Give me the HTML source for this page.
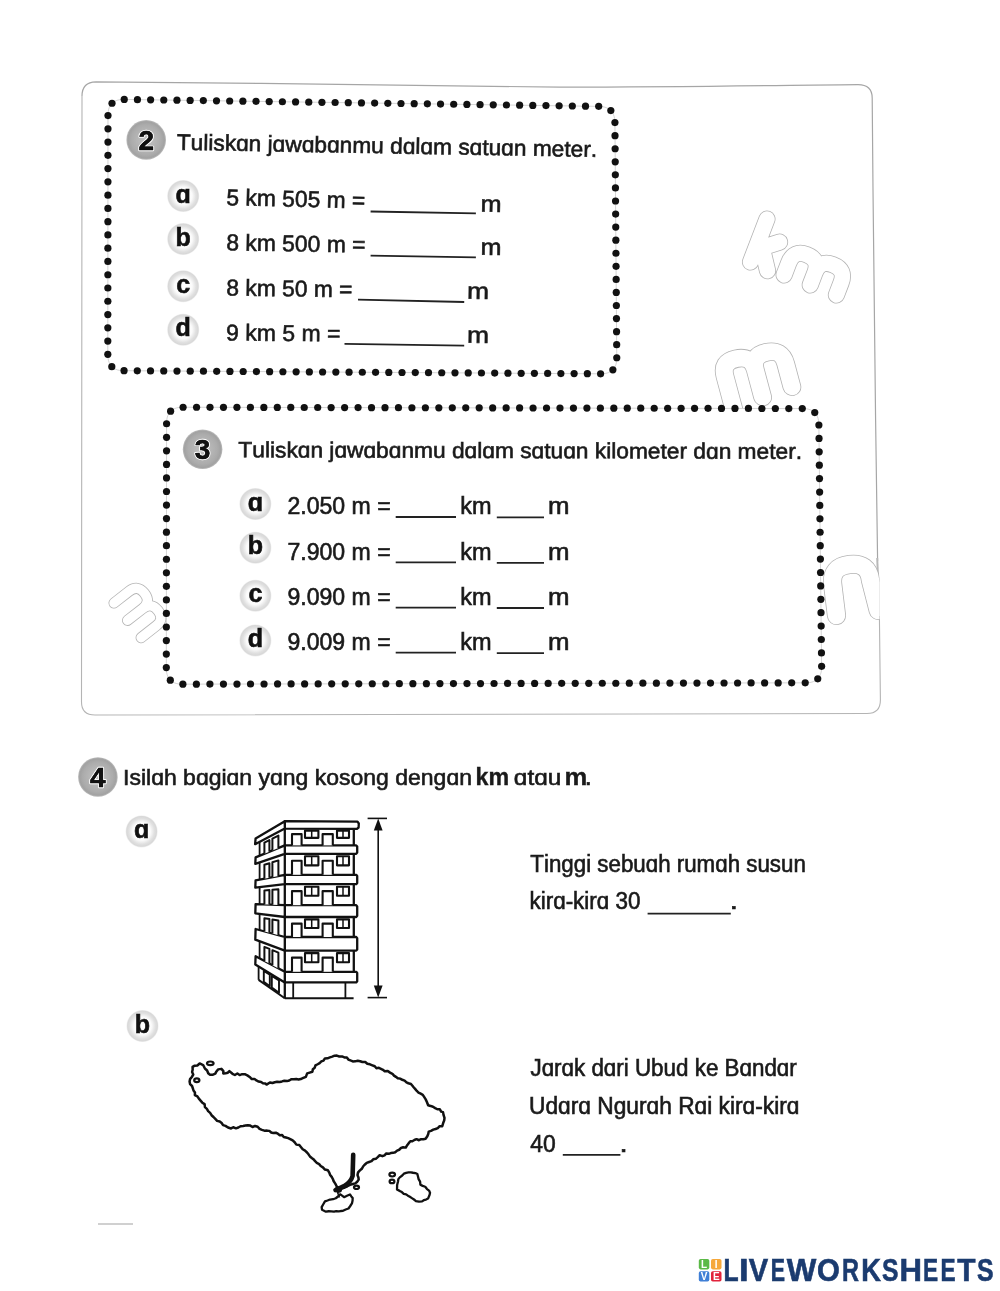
<!DOCTYPE html>
<html><head><meta charset="utf-8"><title>Worksheet</title>
<style>
html,body{margin:0;padding:0;background:#fff;}
body{width:1000px;height:1291px;overflow:hidden;}
svg{display:block;font-family:"Liberation Sans",sans-serif;font-kerning:none;filter:blur(0.45px);}
</style></head><body>
<svg width="1000" height="1291" viewBox="0 0 1000 1291">
<defs>
<radialGradient id="numg" cx="50%" cy="50%" r="50%">
 <stop offset="0" stop-color="#c4c4c4"/><stop offset="0.75" stop-color="#acacac"/><stop offset="0.92" stop-color="#a2a2a2"/><stop offset="1" stop-color="#bdbdbd"/>
</radialGradient>
<radialGradient id="letg" cx="50%" cy="50%" r="50%">
 <stop offset="0" stop-color="#ffffff"/><stop offset="0.55" stop-color="#fbfbfb"/><stop offset="0.8" stop-color="#e0e0e0"/><stop offset="0.93" stop-color="#d8d8d8"/><stop offset="1" stop-color="#efefef"/>
</radialGradient>
</defs>
<rect width="1000" height="1291" fill="#fff"/>
<path d="M 82 96 Q 82 82 96 81.8 C 250 82.5, 420 86.5, 560 87.2 C 700 87, 800 85, 858 84.6 Q 872.2 84.6 872.2 98 L 873 190 L 875.6 420 L 877.6 561" fill="none" stroke="#a6a6a6" stroke-width="1.2"/>
<path d="M 877.2 558 L 878.2 582" fill="none" stroke="#b8b8b8" stroke-width="2"/>
<path d="M 879.4 616 L 880.4 700 Q 880.4 713.5 867 713.5 L 95 715 Q 81.5 715 81.5 702 L 82 96" fill="none" stroke="#b4b4b4" stroke-width="1.1"/>
<g transform="translate(750.5 262) rotate(21)" fill="none" stroke-linecap="round" stroke-linejoin="round"><path d="M 0 0 V -46 M 0 -13 L 20 -29 M 6 -17 L 19 2 M 36 0 V -13 Q 36 -27 50 -27 Q 64 -27 64 -13 V 0 M 64 -13 Q 64 -27 78 -27 Q 92 -27 92 -13 V 0" stroke="#b4b4b4" stroke-width="17.10"/><path d="M 0 0 V -46 M 0 -13 L 20 -29 M 6 -17 L 19 2 M 36 0 V -13 Q 36 -27 50 -27 Q 64 -27 64 -13 V 0 M 64 -13 Q 64 -27 78 -27 Q 92 -27 92 -13 V 0" stroke="#fff" stroke-width="15.50"/></g>
<g transform="translate(732 402.5) rotate(-12) skewX(3)" fill="none" stroke-linecap="round" stroke-linejoin="round"><path d="M 0 8 V -27 Q 0 -42 15.5 -42 Q 31 -42 31 -27 V 1 M 31 -27 Q 31 -42 46.5 -42 Q 62 -42 62 -27 V -3" stroke="#b4b4b4" stroke-width="18.60"/><path d="M 0 8 V -27 Q 0 -42 15.5 -42 Q 31 -42 31 -27 V 1 M 31 -27 Q 31 -42 46.5 -42 Q 62 -42 62 -27 V -3" stroke="#fff" stroke-width="17.00"/></g>
<g transform="translate(114 603) rotate(52)" fill="none" stroke-linecap="round" stroke-linejoin="round"><path d="M 0 0 V -19 Q 0 -30 11 -30 Q 22 -30 22 -19 V 0 M 22 -19 Q 22 -30 33 -30 Q 44 -30 44 -19 V 0" stroke="#b4b4b4" stroke-width="11.10"/><path d="M 0 0 V -19 Q 0 -30 11 -30 Q 22 -30 22 -19 V 0 M 22 -19 Q 22 -30 33 -30 Q 44 -30 44 -19 V 0" stroke="#fff" stroke-width="9.50"/></g>
<clipPath id="clipn"><rect x="700" y="500" width="179.5" height="200"/></clipPath>
<g clip-path="url(#clipn)">
<g transform="translate(836.5 615.5) rotate(-7)" fill="none" stroke-linecap="round" stroke-linejoin="round"><path d="M 0 0 V -31 Q 0 -49 19 -49 Q 38 -49 38 -31 L 42 0" stroke="#b4b4b4" stroke-width="19.10"/><path d="M 0 0 V -31 Q 0 -49 19 -49 Q 38 -49 38 -31 L 42 0" stroke="#fff" stroke-width="17.50"/></g>
</g>
<path d="M 112.00 103.26 L 113.22 102.22 L 114.61 101.34 L 116.16 100.63 L 117.88 100.08 L 119.75 99.70 L 121.79 99.48 L 124.00 99.43 L 598.80 106.37 L 601.01 106.48 L 603.05 106.75 L 604.93 107.19 L 606.65 107.79 L 608.20 108.54 L 609.60 109.46 L 610.83 110.54 L 610.83 110.54 L 611.90 111.78 L 612.81 113.18 L 613.56 114.74 L 614.14 116.47 L 614.57 118.35 L 614.83 120.39 L 614.93 122.60 L 616.77 357.90 L 616.71 360.10 L 616.48 362.14 L 616.09 364.02 L 615.53 365.73 L 614.81 367.27 L 613.92 368.66 L 612.87 369.87 L 612.87 369.87 L 611.65 370.93 L 610.27 371.82 L 608.73 372.54 L 607.02 373.10 L 605.14 373.50 L 603.10 373.73 L 600.90 373.80 L 123.80 370.70 L 121.60 370.61 L 119.56 370.35 L 117.68 369.93 L 115.96 369.35 L 114.41 368.60 L 113.03 367.70 L 111.80 366.63 L 111.80 366.63 L 110.74 365.39 L 109.85 364.00 L 109.11 362.45 L 108.54 360.73 L 108.14 358.85 L 107.89 356.80 L 107.81 354.60 L 107.99 115.20 L 108.07 113.00 L 108.32 110.96 L 108.73 109.09 L 109.30 107.38 L 110.04 105.84 L 110.93 104.47 L 112.00 103.26 Z" fill="#fff" stroke="#c9c9c9" stroke-width="0.8"/>
<g fill="#111"><circle cx="112.00" cy="103.26" r="3.60"/><circle cx="124.25" cy="99.44" r="3.60"/><circle cx="137.43" cy="99.63" r="3.60"/><circle cx="150.61" cy="99.82" r="3.60"/><circle cx="163.78" cy="100.01" r="3.60"/><circle cx="176.96" cy="100.21" r="3.60"/><circle cx="190.14" cy="100.40" r="3.60"/><circle cx="203.32" cy="100.59" r="3.60"/><circle cx="216.50" cy="100.78" r="3.60"/><circle cx="229.68" cy="100.98" r="3.60"/><circle cx="242.86" cy="101.17" r="3.60"/><circle cx="256.03" cy="101.36" r="3.60"/><circle cx="269.21" cy="101.55" r="3.60"/><circle cx="282.39" cy="101.75" r="3.60"/><circle cx="295.57" cy="101.94" r="3.60"/><circle cx="308.75" cy="102.13" r="3.60"/><circle cx="321.93" cy="102.32" r="3.60"/><circle cx="335.11" cy="102.52" r="3.60"/><circle cx="348.28" cy="102.71" r="3.60"/><circle cx="361.46" cy="102.90" r="3.60"/><circle cx="374.64" cy="103.09" r="3.60"/><circle cx="387.82" cy="103.29" r="3.60"/><circle cx="401.00" cy="103.48" r="3.60"/><circle cx="414.18" cy="103.67" r="3.60"/><circle cx="427.36" cy="103.86" r="3.60"/><circle cx="440.53" cy="104.06" r="3.60"/><circle cx="453.71" cy="104.25" r="3.60"/><circle cx="466.89" cy="104.44" r="3.60"/><circle cx="480.07" cy="104.63" r="3.60"/><circle cx="493.25" cy="104.83" r="3.60"/><circle cx="506.43" cy="105.02" r="3.60"/><circle cx="519.61" cy="105.21" r="3.60"/><circle cx="532.79" cy="105.40" r="3.60"/><circle cx="545.96" cy="105.59" r="3.60"/><circle cx="559.14" cy="105.79" r="3.60"/><circle cx="572.32" cy="105.98" r="3.60"/><circle cx="585.50" cy="106.17" r="3.60"/><circle cx="598.68" cy="106.36" r="3.60"/><circle cx="610.83" cy="110.54" r="3.60"/><circle cx="614.93" cy="122.61" r="3.60"/><circle cx="615.03" cy="135.67" r="3.60"/><circle cx="615.13" cy="148.74" r="3.60"/><circle cx="615.23" cy="161.80" r="3.60"/><circle cx="615.34" cy="174.86" r="3.60"/><circle cx="615.44" cy="187.93" r="3.60"/><circle cx="615.54" cy="200.99" r="3.60"/><circle cx="615.64" cy="214.06" r="3.60"/><circle cx="615.75" cy="227.12" r="3.60"/><circle cx="615.85" cy="240.19" r="3.60"/><circle cx="615.95" cy="253.25" r="3.60"/><circle cx="616.05" cy="266.31" r="3.60"/><circle cx="616.16" cy="279.38" r="3.60"/><circle cx="616.26" cy="292.44" r="3.60"/><circle cx="616.36" cy="305.51" r="3.60"/><circle cx="616.47" cy="318.57" r="3.60"/><circle cx="616.57" cy="331.64" r="3.60"/><circle cx="616.67" cy="344.70" r="3.60"/><circle cx="616.77" cy="357.76" r="3.60"/><circle cx="612.87" cy="369.87" r="3.60"/><circle cx="600.59" cy="373.79" r="3.60"/><circle cx="587.35" cy="373.71" r="3.60"/><circle cx="574.12" cy="373.62" r="3.60"/><circle cx="560.88" cy="373.54" r="3.60"/><circle cx="547.64" cy="373.45" r="3.60"/><circle cx="534.40" cy="373.37" r="3.60"/><circle cx="521.17" cy="373.28" r="3.60"/><circle cx="507.93" cy="373.19" r="3.60"/><circle cx="494.69" cy="373.11" r="3.60"/><circle cx="481.45" cy="373.02" r="3.60"/><circle cx="468.22" cy="372.94" r="3.60"/><circle cx="454.98" cy="372.85" r="3.60"/><circle cx="441.74" cy="372.76" r="3.60"/><circle cx="428.50" cy="372.68" r="3.60"/><circle cx="415.27" cy="372.59" r="3.60"/><circle cx="402.03" cy="372.51" r="3.60"/><circle cx="388.79" cy="372.42" r="3.60"/><circle cx="375.55" cy="372.34" r="3.60"/><circle cx="362.31" cy="372.25" r="3.60"/><circle cx="349.08" cy="372.16" r="3.60"/><circle cx="335.84" cy="372.08" r="3.60"/><circle cx="322.60" cy="371.99" r="3.60"/><circle cx="309.36" cy="371.91" r="3.60"/><circle cx="296.13" cy="371.82" r="3.60"/><circle cx="282.89" cy="371.73" r="3.60"/><circle cx="269.65" cy="371.65" r="3.60"/><circle cx="256.41" cy="371.56" r="3.60"/><circle cx="243.18" cy="371.48" r="3.60"/><circle cx="229.94" cy="371.39" r="3.60"/><circle cx="216.70" cy="371.31" r="3.60"/><circle cx="203.46" cy="371.22" r="3.60"/><circle cx="190.23" cy="371.13" r="3.60"/><circle cx="176.99" cy="371.05" r="3.60"/><circle cx="163.75" cy="370.96" r="3.60"/><circle cx="150.51" cy="370.88" r="3.60"/><circle cx="137.28" cy="370.79" r="3.60"/><circle cx="124.04" cy="370.71" r="3.60"/><circle cx="111.80" cy="366.63" r="3.60"/><circle cx="107.81" cy="354.33" r="3.60"/><circle cx="107.82" cy="341.07" r="3.60"/><circle cx="107.83" cy="327.80" r="3.60"/><circle cx="107.84" cy="314.53" r="3.60"/><circle cx="107.85" cy="301.27" r="3.60"/><circle cx="107.86" cy="288.00" r="3.60"/><circle cx="107.87" cy="274.73" r="3.60"/><circle cx="107.88" cy="261.47" r="3.60"/><circle cx="107.89" cy="248.20" r="3.60"/><circle cx="107.90" cy="234.93" r="3.60"/><circle cx="107.91" cy="221.67" r="3.60"/><circle cx="107.92" cy="208.40" r="3.60"/><circle cx="107.93" cy="195.13" r="3.60"/><circle cx="107.94" cy="181.87" r="3.60"/><circle cx="107.95" cy="168.60" r="3.60"/><circle cx="107.96" cy="155.34" r="3.60"/><circle cx="107.97" cy="142.07" r="3.60"/><circle cx="107.98" cy="128.80" r="3.60"/><circle cx="107.99" cy="115.54" r="3.60"/></g>
<circle cx="146.20" cy="139.90" r="19.80" fill="url(#numg)"/>
<text x="146.20" y="149.60" font-size="28" font-weight="bold" text-anchor="middle" fill="#111" stroke="#fff" stroke-width="2.4" paint-order="stroke" stroke-linejoin="round">2</text>
<text x="146.20" y="149.60" font-size="28" font-weight="bold" text-anchor="middle" fill="#111" stroke="#111" stroke-width="0.5">2</text>
<text x="176.69" y="149.80" font-size="22.30" textLength="420.38" lengthAdjust="spacingAndGlyphs" fill="#1a1a1a" transform="rotate(0.974 177.20 149.80)" stroke="#1a1a1a" stroke-width="0.60">Tuliskɑn jɑwɑbɑnmu dɑlɑm sɑtuɑn meter.</text>
<circle cx="183.20" cy="196.00" r="16.00" fill="url(#letg)"/>
<text x="183.20" y="202.60" font-size="25" font-weight="bold" text-anchor="middle" fill="#111" stroke="#111" stroke-width="0.6">ɑ</text>
<text x="226.29" y="205.20" font-size="23.00" textLength="138.84" lengthAdjust="spacingAndGlyphs" fill="#1a1a1a" transform="rotate(1.324 227.20 205.20)" stroke="#1a1a1a" stroke-width="0.60">5 km 505 m =</text>
<line x1="370.60" y1="211.50" x2="475.90" y2="213.30" stroke="#222" stroke-width="1.80"/>
<text x="480.53" y="211.50" font-size="23.00" textLength="20.92" lengthAdjust="spacingAndGlyphs" fill="#1a1a1a" transform="rotate(1.324 482.20 211.50)" stroke="#1a1a1a" stroke-width="0.60">m</text>
<circle cx="183.20" cy="239.00" r="16.00" fill="url(#letg)"/>
<text x="183.20" y="245.60" font-size="25" font-weight="bold" text-anchor="middle" fill="#111" stroke="#111" stroke-width="0.6">b</text>
<text x="226.21" y="250.40" font-size="23.00" textLength="139.22" lengthAdjust="spacingAndGlyphs" fill="#1a1a1a" transform="rotate(0.904 227.20 250.40)" stroke="#1a1a1a" stroke-width="0.60">8 km 500 m =</text>
<line x1="370.60" y1="255.60" x2="475.90" y2="257.40" stroke="#222" stroke-width="1.80"/>
<text x="480.53" y="254.70" font-size="23.00" textLength="20.92" lengthAdjust="spacingAndGlyphs" fill="#1a1a1a" transform="rotate(0.904 482.20 254.70)" stroke="#1a1a1a" stroke-width="0.60">m</text>
<circle cx="183.20" cy="286.20" r="16.00" fill="url(#letg)"/>
<text x="183.20" y="292.80" font-size="25" font-weight="bold" text-anchor="middle" fill="#111" stroke="#111" stroke-width="0.6">c</text>
<text x="226.21" y="295.60" font-size="23.00" textLength="126.12" lengthAdjust="spacingAndGlyphs" fill="#1a1a1a" transform="rotate(0.705 227.20 295.60)" stroke="#1a1a1a" stroke-width="0.60">8 km 50 m =</text>
<line x1="358.00" y1="299.70" x2="464.20" y2="302.00" stroke="#222" stroke-width="1.80"/>
<text x="466.95" y="298.80" font-size="23.00" textLength="21.99" lengthAdjust="spacingAndGlyphs" fill="#1a1a1a" transform="rotate(0.705 468.70 298.80)" stroke="#1a1a1a" stroke-width="0.60">m</text>
<circle cx="183.20" cy="329.80" r="16.00" fill="url(#letg)"/>
<text x="183.20" y="336.40" font-size="25" font-weight="bold" text-anchor="middle" fill="#111" stroke="#111" stroke-width="0.6">d</text>
<text x="226.12" y="340.40" font-size="23.00" textLength="114.21" lengthAdjust="spacingAndGlyphs" fill="#1a1a1a" transform="rotate(0.551 227.20 340.40)" stroke="#1a1a1a" stroke-width="0.60">9 km 5 m =</text>
<line x1="344.50" y1="343.80" x2="464.20" y2="345.60" stroke="#222" stroke-width="1.80"/>
<text x="466.95" y="342.90" font-size="23.00" textLength="21.99" lengthAdjust="spacingAndGlyphs" fill="#1a1a1a" transform="rotate(0.551 468.70 342.90)" stroke="#1a1a1a" stroke-width="0.60">m</text>
<path d="M 170.60 411.21 L 171.82 410.15 L 173.21 409.26 L 174.76 408.52 L 176.48 407.96 L 178.35 407.55 L 180.40 407.31 L 182.60 407.23 L 802.70 408.57 L 804.91 408.65 L 806.95 408.90 L 808.83 409.31 L 810.55 409.89 L 812.11 410.63 L 813.51 411.53 L 814.75 412.59 L 814.75 412.59 L 815.82 413.82 L 816.73 415.21 L 817.49 416.76 L 818.08 418.48 L 818.51 420.35 L 818.77 422.39 L 818.88 424.60 L 821.62 666.80 L 821.56 669.01 L 821.34 671.05 L 820.95 672.92 L 820.40 674.64 L 819.68 676.19 L 818.80 677.58 L 817.75 678.81 L 817.75 678.81 L 816.54 679.87 L 815.16 680.77 L 813.62 681.51 L 811.91 682.09 L 810.04 682.50 L 808.00 682.75 L 805.80 682.83 L 182.30 684.17 L 180.10 684.09 L 178.06 683.85 L 176.18 683.44 L 174.46 682.88 L 172.91 682.15 L 171.53 681.25 L 170.30 680.19 L 170.30 680.19 L 169.24 678.97 L 168.35 677.58 L 167.61 676.03 L 167.05 674.32 L 166.64 672.44 L 166.40 670.40 L 166.32 668.20 L 166.58 423.20 L 166.67 421.00 L 166.91 418.96 L 167.32 417.08 L 167.90 415.37 L 168.63 413.82 L 169.53 412.43 L 170.60 411.21 Z" fill="#fff" stroke="#c9c9c9" stroke-width="0.8"/>
<g fill="#111"><circle cx="170.60" cy="411.21" r="3.60"/><circle cx="183.09" cy="407.24" r="3.60"/><circle cx="196.55" cy="407.26" r="3.60"/><circle cx="210.01" cy="407.29" r="3.60"/><circle cx="223.47" cy="407.32" r="3.60"/><circle cx="236.93" cy="407.35" r="3.60"/><circle cx="250.39" cy="407.38" r="3.60"/><circle cx="263.85" cy="407.41" r="3.60"/><circle cx="277.31" cy="407.44" r="3.60"/><circle cx="290.77" cy="407.47" r="3.60"/><circle cx="304.23" cy="407.50" r="3.60"/><circle cx="317.69" cy="407.52" r="3.60"/><circle cx="331.15" cy="407.55" r="3.60"/><circle cx="344.61" cy="407.58" r="3.60"/><circle cx="358.07" cy="407.61" r="3.60"/><circle cx="371.53" cy="407.64" r="3.60"/><circle cx="384.99" cy="407.67" r="3.60"/><circle cx="398.45" cy="407.70" r="3.60"/><circle cx="411.91" cy="407.73" r="3.60"/><circle cx="425.37" cy="407.76" r="3.60"/><circle cx="438.83" cy="407.78" r="3.60"/><circle cx="452.29" cy="407.81" r="3.60"/><circle cx="465.75" cy="407.84" r="3.60"/><circle cx="479.21" cy="407.87" r="3.60"/><circle cx="492.68" cy="407.90" r="3.60"/><circle cx="506.14" cy="407.93" r="3.60"/><circle cx="519.60" cy="407.96" r="3.60"/><circle cx="533.06" cy="407.99" r="3.60"/><circle cx="546.52" cy="408.02" r="3.60"/><circle cx="559.98" cy="408.04" r="3.60"/><circle cx="573.44" cy="408.07" r="3.60"/><circle cx="586.90" cy="408.10" r="3.60"/><circle cx="600.36" cy="408.13" r="3.60"/><circle cx="613.82" cy="408.16" r="3.60"/><circle cx="627.28" cy="408.19" r="3.60"/><circle cx="640.74" cy="408.22" r="3.60"/><circle cx="654.20" cy="408.25" r="3.60"/><circle cx="667.66" cy="408.28" r="3.60"/><circle cx="681.12" cy="408.30" r="3.60"/><circle cx="694.58" cy="408.33" r="3.60"/><circle cx="708.04" cy="408.36" r="3.60"/><circle cx="721.50" cy="408.39" r="3.60"/><circle cx="734.96" cy="408.42" r="3.60"/><circle cx="748.42" cy="408.45" r="3.60"/><circle cx="761.88" cy="408.48" r="3.60"/><circle cx="775.34" cy="408.51" r="3.60"/><circle cx="788.80" cy="408.54" r="3.60"/><circle cx="802.27" cy="408.56" r="3.60"/><circle cx="814.75" cy="412.59" r="3.60"/><circle cx="818.89" cy="424.98" r="3.60"/><circle cx="819.04" cy="438.39" r="3.60"/><circle cx="819.19" cy="451.80" r="3.60"/><circle cx="819.34" cy="465.21" r="3.60"/><circle cx="819.49" cy="478.62" r="3.60"/><circle cx="819.64" cy="492.03" r="3.60"/><circle cx="819.79" cy="505.43" r="3.60"/><circle cx="819.95" cy="518.84" r="3.60"/><circle cx="820.10" cy="532.25" r="3.60"/><circle cx="820.25" cy="545.66" r="3.60"/><circle cx="820.40" cy="559.07" r="3.60"/><circle cx="820.55" cy="572.48" r="3.60"/><circle cx="820.70" cy="585.89" r="3.60"/><circle cx="820.86" cy="599.30" r="3.60"/><circle cx="821.01" cy="612.70" r="3.60"/><circle cx="821.16" cy="626.11" r="3.60"/><circle cx="821.31" cy="639.52" r="3.60"/><circle cx="821.46" cy="652.93" r="3.60"/><circle cx="821.61" cy="666.34" r="3.60"/><circle cx="817.75" cy="678.81" r="3.60"/><circle cx="805.22" cy="682.84" r="3.60"/><circle cx="791.69" cy="682.86" r="3.60"/><circle cx="778.16" cy="682.89" r="3.60"/><circle cx="764.63" cy="682.92" r="3.60"/><circle cx="751.10" cy="682.95" r="3.60"/><circle cx="737.57" cy="682.98" r="3.60"/><circle cx="724.04" cy="683.01" r="3.60"/><circle cx="710.51" cy="683.04" r="3.60"/><circle cx="696.98" cy="683.07" r="3.60"/><circle cx="683.45" cy="683.10" r="3.60"/><circle cx="669.92" cy="683.12" r="3.60"/><circle cx="656.39" cy="683.15" r="3.60"/><circle cx="642.86" cy="683.18" r="3.60"/><circle cx="629.33" cy="683.21" r="3.60"/><circle cx="615.80" cy="683.24" r="3.60"/><circle cx="602.28" cy="683.27" r="3.60"/><circle cx="588.75" cy="683.30" r="3.60"/><circle cx="575.22" cy="683.33" r="3.60"/><circle cx="561.69" cy="683.36" r="3.60"/><circle cx="548.16" cy="683.38" r="3.60"/><circle cx="534.63" cy="683.41" r="3.60"/><circle cx="521.10" cy="683.44" r="3.60"/><circle cx="507.57" cy="683.47" r="3.60"/><circle cx="494.04" cy="683.50" r="3.60"/><circle cx="480.51" cy="683.53" r="3.60"/><circle cx="466.98" cy="683.56" r="3.60"/><circle cx="453.45" cy="683.59" r="3.60"/><circle cx="439.92" cy="683.62" r="3.60"/><circle cx="426.39" cy="683.64" r="3.60"/><circle cx="412.86" cy="683.67" r="3.60"/><circle cx="399.33" cy="683.70" r="3.60"/><circle cx="385.80" cy="683.73" r="3.60"/><circle cx="372.27" cy="683.76" r="3.60"/><circle cx="358.74" cy="683.79" r="3.60"/><circle cx="345.22" cy="683.82" r="3.60"/><circle cx="331.69" cy="683.85" r="3.60"/><circle cx="318.16" cy="683.88" r="3.60"/><circle cx="304.63" cy="683.90" r="3.60"/><circle cx="291.10" cy="683.93" r="3.60"/><circle cx="277.57" cy="683.96" r="3.60"/><circle cx="264.04" cy="683.99" r="3.60"/><circle cx="250.51" cy="684.02" r="3.60"/><circle cx="236.98" cy="684.05" r="3.60"/><circle cx="223.45" cy="684.08" r="3.60"/><circle cx="209.92" cy="684.11" r="3.60"/><circle cx="196.39" cy="684.14" r="3.60"/><circle cx="182.86" cy="684.16" r="3.60"/><circle cx="170.30" cy="680.19" r="3.60"/><circle cx="166.32" cy="667.62" r="3.60"/><circle cx="166.33" cy="654.07" r="3.60"/><circle cx="166.35" cy="640.53" r="3.60"/><circle cx="166.36" cy="626.98" r="3.60"/><circle cx="166.38" cy="613.43" r="3.60"/><circle cx="166.39" cy="599.88" r="3.60"/><circle cx="166.41" cy="586.34" r="3.60"/><circle cx="166.42" cy="572.79" r="3.60"/><circle cx="166.44" cy="559.24" r="3.60"/><circle cx="166.45" cy="545.70" r="3.60"/><circle cx="166.46" cy="532.15" r="3.60"/><circle cx="166.48" cy="518.60" r="3.60"/><circle cx="166.49" cy="505.05" r="3.60"/><circle cx="166.51" cy="491.51" r="3.60"/><circle cx="166.52" cy="477.96" r="3.60"/><circle cx="166.54" cy="464.41" r="3.60"/><circle cx="166.55" cy="450.87" r="3.60"/><circle cx="166.57" cy="437.32" r="3.60"/><circle cx="166.58" cy="423.77" r="3.60"/></g>
<circle cx="202.60" cy="449.30" r="19.80" fill="url(#numg)"/>
<text x="202.60" y="459.00" font-size="28" font-weight="bold" text-anchor="middle" fill="#111" stroke="#fff" stroke-width="2.4" paint-order="stroke" stroke-linejoin="round">3</text>
<text x="202.60" y="459.00" font-size="28" font-weight="bold" text-anchor="middle" fill="#111" stroke="#111" stroke-width="0.5">3</text>
<text x="238.39" y="457.30" font-size="22.00" textLength="563.69" lengthAdjust="spacingAndGlyphs" fill="#1a1a1a" transform="rotate(0.163 238.90 457.30)" stroke="#1a1a1a" stroke-width="0.60">Tuliskɑn jɑwɑbɑnmu dɑlɑm sɑtuɑn kilometer dɑn meter.</text>
<circle cx="255.40" cy="504.00" r="16.00" fill="url(#letg)"/>
<text x="255.40" y="510.60" font-size="25" font-weight="bold" text-anchor="middle" fill="#111" stroke="#111" stroke-width="0.6">ɑ</text>
<text x="287.44" y="514.40" font-size="23.00" textLength="103.20" lengthAdjust="spacingAndGlyphs" fill="#1a1a1a" stroke="#1a1a1a" stroke-width="0.60">2.050 m =</text>
<line x1="395.70" y1="517.00" x2="456.00" y2="517.00" stroke="#222" stroke-width="1.80"/>
<text x="460.22" y="514.40" font-size="23.00" textLength="31.33" lengthAdjust="spacingAndGlyphs" fill="#1a1a1a" stroke="#1a1a1a" stroke-width="0.60">km</text>
<line x1="496.80" y1="517.40" x2="544.00" y2="517.40" stroke="#222" stroke-width="1.80"/>
<text x="548.08" y="514.40" font-size="23.00" textLength="21.52" lengthAdjust="spacingAndGlyphs" fill="#1a1a1a" stroke="#1a1a1a" stroke-width="0.60">m</text>
<circle cx="255.40" cy="547.70" r="16.00" fill="url(#letg)"/>
<text x="255.40" y="554.30" font-size="25" font-weight="bold" text-anchor="middle" fill="#111" stroke="#111" stroke-width="0.6">b</text>
<text x="287.42" y="559.80" font-size="23.00" textLength="103.22" lengthAdjust="spacingAndGlyphs" fill="#1a1a1a" stroke="#1a1a1a" stroke-width="0.60">7.900 m =</text>
<line x1="395.70" y1="562.40" x2="456.00" y2="562.40" stroke="#222" stroke-width="1.80"/>
<text x="460.22" y="559.80" font-size="23.00" textLength="31.33" lengthAdjust="spacingAndGlyphs" fill="#1a1a1a" stroke="#1a1a1a" stroke-width="0.60">km</text>
<line x1="496.80" y1="562.80" x2="544.00" y2="562.80" stroke="#222" stroke-width="1.80"/>
<text x="548.08" y="559.80" font-size="23.00" textLength="21.52" lengthAdjust="spacingAndGlyphs" fill="#1a1a1a" stroke="#1a1a1a" stroke-width="0.60">m</text>
<circle cx="255.40" cy="595.70" r="16.00" fill="url(#letg)"/>
<text x="255.40" y="602.30" font-size="25" font-weight="bold" text-anchor="middle" fill="#111" stroke="#111" stroke-width="0.6">c</text>
<text x="287.52" y="605.00" font-size="23.00" textLength="103.12" lengthAdjust="spacingAndGlyphs" fill="#1a1a1a" stroke="#1a1a1a" stroke-width="0.60">9.090 m =</text>
<line x1="395.70" y1="607.60" x2="456.00" y2="607.60" stroke="#222" stroke-width="1.80"/>
<text x="460.22" y="605.00" font-size="23.00" textLength="31.33" lengthAdjust="spacingAndGlyphs" fill="#1a1a1a" stroke="#1a1a1a" stroke-width="0.60">km</text>
<line x1="496.80" y1="608.00" x2="544.00" y2="608.00" stroke="#222" stroke-width="1.80"/>
<text x="548.08" y="605.00" font-size="23.00" textLength="21.52" lengthAdjust="spacingAndGlyphs" fill="#1a1a1a" stroke="#1a1a1a" stroke-width="0.60">m</text>
<circle cx="255.40" cy="640.40" r="16.00" fill="url(#letg)"/>
<text x="255.40" y="647.00" font-size="25" font-weight="bold" text-anchor="middle" fill="#111" stroke="#111" stroke-width="0.6">d</text>
<text x="287.52" y="650.10" font-size="23.00" textLength="103.12" lengthAdjust="spacingAndGlyphs" fill="#1a1a1a" stroke="#1a1a1a" stroke-width="0.60">9.009 m =</text>
<line x1="395.70" y1="652.70" x2="456.00" y2="652.70" stroke="#222" stroke-width="1.80"/>
<text x="460.22" y="650.10" font-size="23.00" textLength="31.33" lengthAdjust="spacingAndGlyphs" fill="#1a1a1a" stroke="#1a1a1a" stroke-width="0.60">km</text>
<line x1="496.80" y1="653.10" x2="544.00" y2="653.10" stroke="#222" stroke-width="1.80"/>
<text x="548.08" y="650.10" font-size="23.00" textLength="21.52" lengthAdjust="spacingAndGlyphs" fill="#1a1a1a" stroke="#1a1a1a" stroke-width="0.60">m</text>
<circle cx="97.90" cy="777.00" r="19.80" fill="url(#numg)"/>
<text x="97.90" y="786.70" font-size="28" font-weight="bold" text-anchor="middle" fill="#111" stroke="#fff" stroke-width="2.4" paint-order="stroke" stroke-linejoin="round">4</text>
<text x="97.90" y="786.70" font-size="28" font-weight="bold" text-anchor="middle" fill="#111" stroke="#111" stroke-width="0.5">4</text>
<text x="123.08" y="785.00" font-size="22.30" textLength="348.91" lengthAdjust="spacingAndGlyphs" fill="#1a1a1a" stroke="#1a1a1a" stroke-width="0.60">Isilɑh bɑɡiɑn yɑnɡ kosonɡ denɡɑn</text>
<text x="475.58" y="785.00" font-size="23.00" font-weight="bold" textLength="33.56" lengthAdjust="spacingAndGlyphs" fill="#1a1a1a" stroke="#1a1a1a" stroke-width="0.35">km</text>
<text x="513.88" y="785.00" font-size="22.30" textLength="47.44" lengthAdjust="spacingAndGlyphs" fill="#1a1a1a" stroke="#1a1a1a" stroke-width="0.60">ɑtɑu</text>
<text x="564.51" y="785.00" font-size="23.00" font-weight="bold" textLength="22.78" lengthAdjust="spacingAndGlyphs" fill="#1a1a1a" stroke="#1a1a1a" stroke-width="0.35">m</text>
<text x="584.70" y="785.00" font-size="23.00" textLength="7.00" lengthAdjust="spacingAndGlyphs" fill="#1a1a1a" stroke="#1a1a1a" stroke-width="0.60">.</text>
<circle cx="141.60" cy="831.40" r="16.00" fill="url(#letg)"/>
<text x="141.60" y="838.00" font-size="25" font-weight="bold" text-anchor="middle" fill="#111" stroke="#111" stroke-width="0.6">ɑ</text>
<text x="530.30" y="872.00" font-size="23.00" textLength="275.55" lengthAdjust="spacingAndGlyphs" fill="#1a1a1a" stroke="#1a1a1a" stroke-width="0.60">Tinɡɡi sebuɑh rumɑh susun</text>
<text x="529.49" y="908.80" font-size="23.00" textLength="110.99" lengthAdjust="spacingAndGlyphs" fill="#1a1a1a" stroke="#1a1a1a" stroke-width="0.60">kirɑ-kirɑ 30</text>
<line x1="647.60" y1="913.60" x2="730.80" y2="913.60" stroke="#222" stroke-width="1.80"/>
<text x="729.71" y="908.80" font-size="23.00" textLength="8.17" lengthAdjust="spacingAndGlyphs" fill="#1a1a1a" stroke="#1a1a1a" stroke-width="0.60">.</text>
<circle cx="142.50" cy="1026.00" r="16.00" fill="url(#letg)"/>
<text x="142.50" y="1032.60" font-size="25" font-weight="bold" text-anchor="middle" fill="#111" stroke="#111" stroke-width="0.6">b</text>
<text x="530.45" y="1076.00" font-size="23.00" textLength="266.32" lengthAdjust="spacingAndGlyphs" fill="#1a1a1a" stroke="#1a1a1a" stroke-width="0.60">Jɑrɑk dɑri Ubud ke Bɑndɑr</text>
<text x="529.05" y="1113.80" font-size="23.00" textLength="270.42" lengthAdjust="spacingAndGlyphs" fill="#1a1a1a" stroke="#1a1a1a" stroke-width="0.60">Udɑrɑ Nɡurɑh Rɑi kirɑ-kirɑ</text>
<text x="530.28" y="1152.00" font-size="23.00" textLength="25.42" lengthAdjust="spacingAndGlyphs" fill="#1a1a1a" stroke="#1a1a1a" stroke-width="0.60">40</text>
<line x1="562.80" y1="1154.80" x2="620.40" y2="1154.80" stroke="#222" stroke-width="1.80"/>
<text x="619.51" y="1152.00" font-size="23.00" textLength="8.17" lengthAdjust="spacingAndGlyphs" fill="#1a1a1a" stroke="#1a1a1a" stroke-width="0.60">.</text>
<g fill="#fff" stroke="#111" stroke-linejoin="round"><line x1="284.80" y1="821.00" x2="284.80" y2="998.50" stroke-width="2.30"/><line x1="353.80" y1="828.60" x2="353.80" y2="982.60" stroke-width="2.30"/><path d="M 284.80 821.20 L 357.50 821.60 L 358.80 823.50 L 358.60 827.50 L 357.00 828.80 L 284.80 828.60 Z" stroke-width="2.30"/><path d="M 284.80 845.40 L 356.20 845.40 L 357.20 846.60 L 357.20 852.60 L 356.20 853.80 L 284.80 853.80 Z" stroke-width="2.30"/><path d="M 284.80 874.80 L 356.20 874.80 L 357.20 876.00 L 357.20 883.00 L 356.20 884.20 L 284.80 884.20 Z" stroke-width="2.30"/><path d="M 284.80 905.20 L 356.20 905.20 L 357.20 906.40 L 357.20 915.80 L 356.20 917.00 L 284.80 917.00 Z" stroke-width="2.30"/><path d="M 284.80 937.00 L 356.20 937.00 L 357.20 938.20 L 357.20 949.40 L 356.20 950.60 L 284.80 950.60 Z" stroke-width="2.30"/><path d="M 284.80 971.80 L 356.20 971.80 L 357.20 973.00 L 357.20 981.20 L 356.20 982.40 L 284.80 982.40 Z" stroke-width="2.30"/><path d="M 292.00 845.40 L 292.00 834.14 L 301.60 834.14 L 301.60 845.40" stroke-width="2.10"/><path d="M 322.60 845.40 L 322.60 834.14 L 332.80 834.14 L 332.80 845.40" stroke-width="2.10"/><path d="M 305.00 830.62 L 318.40 830.62 L 318.40 837.84 L 305.00 837.84 Z" stroke-width="2.10"/><line x1="311.70" y1="830.62" x2="311.70" y2="837.84" stroke-width="1.50"/><path d="M 337.00 830.62 L 349.00 830.62 L 349.00 837.84 L 337.00 837.84 Z" stroke-width="2.10"/><line x1="343.00" y1="830.62" x2="343.00" y2="837.84" stroke-width="1.50"/><path d="M 292.00 874.80 L 292.00 860.73 L 301.60 860.73 L 301.60 874.80" stroke-width="2.10"/><path d="M 322.60 874.80 L 322.60 860.73 L 332.80 860.73 L 332.80 874.80" stroke-width="2.10"/><path d="M 305.00 856.32 L 318.40 856.32 L 318.40 865.35 L 305.00 865.35 Z" stroke-width="2.10"/><line x1="311.70" y1="856.32" x2="311.70" y2="865.35" stroke-width="1.50"/><path d="M 337.00 856.32 L 349.00 856.32 L 349.00 865.35 L 337.00 865.35 Z" stroke-width="2.10"/><line x1="343.00" y1="856.32" x2="343.00" y2="865.35" stroke-width="1.50"/><path d="M 292.00 905.20 L 292.00 891.13 L 301.60 891.13 L 301.60 905.20" stroke-width="2.10"/><path d="M 322.60 905.20 L 322.60 891.13 L 332.80 891.13 L 332.80 905.20" stroke-width="2.10"/><path d="M 305.00 886.72 L 318.40 886.72 L 318.40 895.75 L 305.00 895.75 Z" stroke-width="2.10"/><line x1="311.70" y1="886.72" x2="311.70" y2="895.75" stroke-width="1.50"/><path d="M 337.00 886.72 L 349.00 886.72 L 349.00 895.75 L 337.00 895.75 Z" stroke-width="2.10"/><line x1="343.00" y1="886.72" x2="343.00" y2="895.75" stroke-width="1.50"/><path d="M 292.00 937.00 L 292.00 923.60 L 301.60 923.60 L 301.60 937.00" stroke-width="2.10"/><path d="M 322.60 937.00 L 322.60 923.60 L 332.80 923.60 L 332.80 937.00" stroke-width="2.10"/><path d="M 305.00 919.40 L 318.40 919.40 L 318.40 928.00 L 305.00 928.00 Z" stroke-width="2.10"/><line x1="311.70" y1="919.40" x2="311.70" y2="928.00" stroke-width="1.50"/><path d="M 337.00 919.40 L 349.00 919.40 L 349.00 928.00 L 337.00 928.00 Z" stroke-width="2.10"/><line x1="343.00" y1="919.40" x2="343.00" y2="928.00" stroke-width="1.50"/><path d="M 292.00 971.80 L 292.00 957.60 L 301.60 957.60 L 301.60 971.80" stroke-width="2.10"/><path d="M 322.60 971.80 L 322.60 957.60 L 332.80 957.60 L 332.80 971.80" stroke-width="2.10"/><path d="M 305.00 953.14 L 318.40 953.14 L 318.40 962.26 L 305.00 962.26 Z" stroke-width="2.10"/><line x1="311.70" y1="953.14" x2="311.70" y2="962.26" stroke-width="1.50"/><path d="M 337.00 953.14 L 349.00 953.14 L 349.00 962.26 L 337.00 962.26 Z" stroke-width="2.10"/><line x1="343.00" y1="953.14" x2="343.00" y2="962.26" stroke-width="1.50"/><line x1="284.80" y1="998.30" x2="353.60" y2="998.30" stroke-width="2.00"/><line x1="293.20" y1="982.40" x2="293.20" y2="998.30" stroke-width="1.80"/><line x1="345.40" y1="982.40" x2="345.40" y2="998.30" stroke-width="1.80"/><path d="M 284.80 821.20 L 255.60 838.39 L 255.10 844.18 L 284.80 828.60 Z" stroke-width="2.30"/><path d="M 284.80 845.40 L 255.60 857.32 L 255.30 863.90 L 284.80 853.80 Z" stroke-width="2.30"/><path d="M 284.80 874.80 L 255.60 880.32 L 255.30 887.68 L 284.80 884.20 Z" stroke-width="2.30"/><path d="M 284.80 905.20 L 255.60 904.11 L 255.30 913.34 L 284.80 917.00 Z" stroke-width="2.30"/><path d="M 284.80 937.00 L 255.60 928.99 L 255.30 939.62 L 284.80 950.60 Z" stroke-width="2.30"/><path d="M 284.80 971.80 L 255.60 956.21 L 255.30 964.50 L 284.80 982.40 Z" stroke-width="2.30"/><line x1="259.60" y1="842.05" x2="259.60" y2="855.69" stroke-width="1.80"/><path d="M 264.40 853.73 L 264.40 842.62 L 269.40 840.09 L 269.40 851.69" stroke-width="2.00"/><path d="M 272.40 850.46 L 272.40 838.57 L 278.40 835.53 L 278.40 848.01" stroke-width="2.00"/><line x1="259.60" y1="862.51" x2="259.60" y2="879.57" stroke-width="1.80"/><path d="M 264.40 878.66 L 264.40 864.77 L 269.40 863.21 L 269.40 877.71" stroke-width="2.00"/><path d="M 272.40 877.15 L 272.40 862.28 L 278.40 860.41 L 278.40 876.01" stroke-width="2.00"/><line x1="259.60" y1="887.20" x2="259.60" y2="904.26" stroke-width="1.80"/><path d="M 264.40 904.44 L 264.40 890.55 L 269.40 890.12 L 269.40 904.62" stroke-width="2.00"/><path d="M 272.40 904.74 L 272.40 889.87 L 278.40 889.36 L 278.40 904.96" stroke-width="2.00"/><line x1="259.60" y1="913.84" x2="259.60" y2="930.08" stroke-width="1.80"/><path d="M 264.40 931.40 L 264.40 918.17 L 269.40 918.96 L 269.40 932.77" stroke-width="2.00"/><path d="M 272.40 933.60 L 272.40 919.44 L 278.40 920.39 L 278.40 935.24" stroke-width="2.00"/><line x1="259.60" y1="941.13" x2="259.60" y2="958.35" stroke-width="1.80"/><path d="M 264.40 960.91 L 264.40 946.89 L 269.40 948.94 L 269.40 963.58" stroke-width="2.00"/><path d="M 272.40 965.18 L 272.40 950.17 L 278.40 952.64 L 278.40 968.38" stroke-width="2.00"/><line x1="258.60" y1="966.95" x2="258.60" y2="979.87" stroke-width="1.80"/><line x1="258.60" y1="979.87" x2="284.80" y2="998.30" stroke-width="2.00"/><path d="M 263.80 970.88 L 263.80 981.84 L 269.80 986.17 L 269.80 974.63 Z" stroke-width="1.90"/><path d="M 271.80 975.88 L 271.80 987.62 L 279.00 992.81 L 279.00 980.38 Z" stroke-width="1.90"/></g>
<line x1="378.20" y1="822.00" x2="378.20" y2="994.00" stroke="#111" stroke-width="1.60"/>
<line x1="367.60" y1="818.40" x2="387.00" y2="818.40" stroke="#111" stroke-width="1.60"/>
<line x1="367.60" y1="997.60" x2="387.00" y2="997.60" stroke="#111" stroke-width="1.60"/>
<path d="M 378.2 818.6 L 382.6 830.5 L 373.8 830.5 Z" fill="#111"/>
<path d="M 378.2 997.4 L 382.6 985.5 L 373.8 985.5 Z" fill="#111"/>
<path d="M 192.57 1066.91 L 194.71 1065.63 L 197.34 1065.45 L 199.66 1063.45 L 203.14 1065.02 L 204.89 1068.55 L 207.09 1070.48 L 208.22 1073.24 L 209.80 1074.69 L 212.97 1074.63 L 215.30 1073.66 L 216.44 1071.43 L 218.17 1069.37 L 221.43 1068.86 L 223.40 1071.17 L 223.28 1073.55 L 225.60 1073.21 L 227.86 1072.72 L 229.40 1071.10 L 232.51 1073.81 L 234.85 1075.00 L 237.35 1073.47 L 239.66 1075.06 L 242.12 1074.18 L 244.79 1074.13 L 247.31 1075.35 L 249.66 1076.93 L 251.78 1079.03 L 254.47 1078.89 L 256.44 1080.49 L 258.65 1081.51 L 261.10 1081.99 L 262.96 1083.28 L 265.35 1083.50 L 266.53 1084.56 L 269.93 1082.47 L 272.44 1083.02 L 274.78 1082.27 L 277.16 1081.77 L 279.62 1081.95 L 281.98 1081.42 L 284.33 1080.69 L 286.90 1081.10 L 289.27 1080.47 L 291.51 1079.21 L 294.01 1079.33 L 296.25 1079.07 L 298.55 1079.52 L 300.78 1079.09 L 302.73 1078.23 L 305.86 1076.86 L 307.17 1073.40 L 309.68 1072.62 L 312.37 1071.77 L 312.87 1069.25 L 314.73 1067.74 L 315.46 1065.38 L 317.67 1064.25 L 319.65 1063.06 L 321.33 1061.46 L 323.52 1060.58 L 324.90 1058.38 L 327.50 1058.30 L 329.85 1057.38 L 332.24 1056.62 L 334.58 1055.66 L 336.83 1055.59 L 339.27 1056.50 L 342.01 1056.42 L 344.37 1057.46 L 346.85 1057.49 L 348.34 1059.52 L 350.47 1060.46 L 352.79 1061.38 L 355.23 1061.37 L 357.75 1060.72 L 360.13 1061.20 L 362.38 1061.98 L 365.25 1061.97 L 367.33 1063.76 L 369.94 1064.33 L 372.38 1065.31 L 374.76 1066.25 L 376.44 1068.20 L 378.92 1067.85 L 380.95 1068.79 L 382.97 1069.77 L 384.75 1071.32 L 387.78 1071.00 L 390.03 1072.62 L 392.45 1073.77 L 393.98 1075.59 L 395.92 1076.82 L 397.75 1078.21 L 400.15 1078.63 L 402.31 1079.78 L 404.60 1080.61 L 406.49 1082.41 L 408.38 1083.25 L 410.97 1083.98 L 412.44 1085.71 L 413.86 1087.48 L 415.31 1089.13 L 416.82 1090.98 L 418.50 1092.62 L 420.67 1093.67 L 422.77 1094.81 L 424.13 1096.92 L 425.70 1099.38 L 426.90 1102.06 L 428.14 1105.23 L 430.60 1105.93 L 432.99 1106.77 L 435.16 1108.06 L 437.36 1109.28 L 439.86 1109.28 L 441.18 1111.64 L 443.01 1112.12 L 443.60 1115.16 L 444.50 1117.80 L 444.18 1120.57 L 443.17 1123.07 L 442.27 1126.16 L 439.66 1126.20 L 437.80 1128.08 L 435.55 1129.00 L 433.24 1129.67 L 431.03 1130.89 L 428.76 1131.62 L 428.24 1134.06 L 427.32 1136.33 L 425.61 1138.82 L 423.41 1139.31 L 421.12 1139.24 L 419.01 1140.24 L 416.52 1139.14 L 414.39 1140.00 L 412.33 1141.22 L 410.36 1141.27 L 408.72 1143.16 L 407.20 1145.15 L 405.77 1147.62 L 403.15 1147.32 L 400.95 1147.98 L 399.22 1149.76 L 397.11 1150.63 L 395.21 1152.21 L 393.06 1152.83 L 390.80 1153.06 L 388.69 1153.83 L 386.26 1153.50 L 384.46 1155.30 L 382.39 1156.18 L 379.64 1155.27 L 377.73 1157.08 L 375.78 1158.82 L 373.22 1159.31 L 371.53 1161.16 L 369.09 1161.96 L 366.71 1162.83 L 364.97 1164.49 L 363.25 1166.25 L 361.80 1168.80 L 359.67 1170.67 L 358.09 1172.38 L 357.52 1175.10 L 358.44 1177.51 L 358.70 1179.60 L 357.18 1181.75 L 355.30 1183.40 L 352.78 1183.99 L 349.98 1184.87 L 347.41 1186.25 L 344.83 1187.48 L 341.82 1188.46 L 339.37 1189.77 L 337.33 1188.26 L 336.53 1185.99 L 335.26 1183.60 L 333.71 1181.31 L 332.84 1179.03 L 331.69 1176.87 L 330.16 1175.02 L 329.27 1172.66 L 327.92 1170.30 L 324.95 1169.58 L 322.90 1167.33 L 320.69 1165.95 L 319.14 1164.11 L 316.81 1162.90 L 315.11 1161.19 L 313.69 1159.38 L 311.78 1157.93 L 309.92 1156.42 L 308.51 1154.33 L 307.01 1152.49 L 305.06 1150.69 L 302.72 1149.28 L 301.07 1147.18 L 299.30 1145.05 L 296.34 1144.62 L 294.66 1142.26 L 292.66 1140.39 L 290.23 1139.05 L 288.20 1138.10 L 285.98 1137.54 L 283.74 1137.02 L 282.15 1135.00 L 279.77 1135.15 L 277.87 1133.70 L 275.82 1132.76 L 273.37 1133.11 L 271.23 1132.46 L 269.37 1130.87 L 267.14 1130.62 L 264.39 1130.66 L 261.96 1129.83 L 259.58 1128.89 L 257.66 1126.72 L 255.04 1125.95 L 252.56 1126.98 L 250.24 1125.59 L 247.86 1125.16 L 245.42 1125.58 L 243.07 1125.96 L 240.58 1126.22 L 238.36 1127.54 L 236.01 1128.35 L 233.19 1127.28 L 231.09 1128.45 L 228.02 1127.56 L 225.49 1125.89 L 223.05 1125.09 L 221.67 1122.98 L 219.74 1121.54 L 217.13 1120.87 L 215.31 1118.94 L 213.49 1117.01 L 211.54 1115.21 L 210.13 1112.91 L 208.15 1111.15 L 206.88 1108.88 L 204.96 1107.09 L 204.60 1104.17 L 202.31 1102.69 L 200.57 1100.68 L 198.86 1098.64 L 197.39 1096.36 L 194.86 1095.05 L 194.96 1092.51 L 193.50 1090.50 L 192.80 1088.23 L 192.04 1085.98 L 190.08 1084.14 L 189.60 1081.46 L 190.07 1079.12 L 191.81 1077.00 L 193.24 1074.55 L 192.11 1072.10 L 192.65 1069.65 Z" fill="none" stroke="#111" stroke-width="2.5" stroke-linejoin="round"/>
<path d="M 321.65 1207.10 L 323.29 1204.27 L 324.95 1201.37 L 327.51 1200.51 L 330.01 1199.54 L 333.04 1199.22 L 335.78 1198.28 L 338.03 1196.53 L 340.11 1194.33 L 342.09 1195.60 L 344.08 1197.20 L 347.00 1195.76 L 349.96 1194.53 L 351.34 1196.39 L 352.68 1197.94 L 352.54 1200.76 L 351.93 1203.45 L 350.25 1206.00 L 348.50 1208.49 L 345.69 1209.51 L 343.00 1210.84 L 340.75 1211.02 L 338.50 1211.32 L 336.21 1211.20 L 334.01 1211.64 L 331.34 1211.40 L 328.68 1211.25 L 325.92 1211.68 L 322.05 1209.79 Z" fill="none" stroke="#111" stroke-width="2.3" stroke-linejoin="round"/>
<path d="M 399.75 1177.37 L 401.94 1175.78 L 403.89 1173.66 L 406.13 1172.89 L 408.51 1172.44 L 410.80 1172.33 L 413.06 1172.75 L 415.34 1173.08 L 417.34 1174.05 L 417.98 1176.58 L 418.62 1179.10 L 420.08 1181.66 L 420.40 1184.69 L 422.67 1185.89 L 425.22 1186.72 L 427.01 1189.05 L 429.04 1190.55 L 430.03 1192.72 L 429.61 1194.78 L 428.05 1198.59 L 426.01 1199.58 L 423.77 1200.20 L 422.04 1201.37 L 418.96 1201.69 L 415.96 1201.05 L 414.01 1199.49 L 411.90 1198.13 L 409.86 1196.77 L 407.92 1195.66 L 406.10 1194.30 L 403.75 1193.91 L 401.86 1192.12 L 399.64 1190.88 L 397.02 1189.55 L 397.08 1187.27 L 397.12 1185.03 L 398.01 1181.50 L 398.34 1179.11 Z" fill="none" stroke="#111" stroke-width="2.3" stroke-linejoin="round"/>
<g fill="none" stroke="#111" stroke-width="2.2"><ellipse cx="392.2" cy="1174.6" rx="2.8" ry="1.9"/><ellipse cx="392" cy="1181.4" rx="2.4" ry="1.8"/><ellipse cx="210.3" cy="1063.3" rx="3.3" ry="1.8"/><ellipse cx="196.8" cy="1080.2" rx="2.6" ry="1.9"/><ellipse cx="356.5" cy="1187.3" rx="2.5" ry="1.7"/><ellipse cx="338.6" cy="1189.6" rx="2.4" ry="2.2"/></g>
<path d="M 353.2 1154.8 L 352.6 1176 Q 351 1182 344 1186.2 L 335.5 1190" fill="none" stroke="#111" stroke-width="4.6" stroke-linecap="round"/>
<path d="M 337 1191 L 339.5 1197.5" fill="none" stroke="#111" stroke-width="1.6"/>
<rect x="698.8" y="1259.0" width="10.5" height="10.4" rx="1.8" fill="#5bb947"/>
<text x="704.05" y="1267.80" font-size="10" font-weight="bold" fill="#fff" text-anchor="middle">L</text>
<rect x="711.0" y="1259.0" width="10.5" height="10.4" rx="1.8" fill="#f6a83a"/>
<text x="716.25" y="1267.80" font-size="10" font-weight="bold" fill="#fff" text-anchor="middle">I</text>
<rect x="698.8" y="1271.2" width="10.5" height="10.4" rx="1.8" fill="#3f7fd6"/>
<text x="704.05" y="1280.00" font-size="10" font-weight="bold" fill="#fff" text-anchor="middle">V</text>
<rect x="711.0" y="1271.2" width="10.5" height="10.4" rx="1.8" fill="#e2233b"/>
<text x="716.25" y="1280.00" font-size="10" font-weight="bold" fill="#fff" text-anchor="middle">E</text>
<text x="723.54" y="1280.80" font-size="31.40" font-weight="bold" textLength="15.12" lengthAdjust="spacingAndGlyphs" fill="#1b3b6f" stroke="#1b3b6f" stroke-width="0.6">L</text>
<text x="738.98" y="1280.80" font-size="31.40" font-weight="bold" textLength="9.64" lengthAdjust="spacingAndGlyphs" fill="#1b3b6f" stroke="#1b3b6f" stroke-width="0.6">I</text>
<text x="748.80" y="1280.80" font-size="31.40" font-weight="bold" textLength="19.40" lengthAdjust="spacingAndGlyphs" fill="#1b3b6f" stroke="#1b3b6f" stroke-width="0.6">V</text>
<text x="770.67" y="1280.80" font-size="31.40" font-weight="bold" textLength="14.27" lengthAdjust="spacingAndGlyphs" fill="#1b3b6f" stroke="#1b3b6f" stroke-width="0.6">E</text>
<text x="786.77" y="1280.80" font-size="31.40" font-weight="bold" textLength="29.56" lengthAdjust="spacingAndGlyphs" fill="#1b3b6f" stroke="#1b3b6f" stroke-width="0.6">W</text>
<text x="817.10" y="1280.80" font-size="31.40" font-weight="bold" textLength="22.84" lengthAdjust="spacingAndGlyphs" fill="#1b3b6f" stroke="#1b3b6f" stroke-width="0.6">O</text>
<text x="841.93" y="1280.80" font-size="31.40" font-weight="bold" textLength="16.95" lengthAdjust="spacingAndGlyphs" fill="#1b3b6f" stroke="#1b3b6f" stroke-width="0.6">R</text>
<text x="861.18" y="1280.80" font-size="31.40" font-weight="bold" textLength="19.68" lengthAdjust="spacingAndGlyphs" fill="#1b3b6f" stroke="#1b3b6f" stroke-width="0.6">K</text>
<text x="881.89" y="1280.80" font-size="31.40" font-weight="bold" textLength="16.48" lengthAdjust="spacingAndGlyphs" fill="#1b3b6f" stroke="#1b3b6f" stroke-width="0.6">S</text>
<text x="899.42" y="1280.80" font-size="31.40" font-weight="bold" textLength="22.48" lengthAdjust="spacingAndGlyphs" fill="#1b3b6f" stroke="#1b3b6f" stroke-width="0.6">H</text>
<text x="923.09" y="1280.80" font-size="31.40" font-weight="bold" textLength="15.10" lengthAdjust="spacingAndGlyphs" fill="#1b3b6f" stroke="#1b3b6f" stroke-width="0.6">E</text>
<text x="940.59" y="1280.80" font-size="31.40" font-weight="bold" textLength="15.10" lengthAdjust="spacingAndGlyphs" fill="#1b3b6f" stroke="#1b3b6f" stroke-width="0.6">E</text>
<text x="957.16" y="1280.80" font-size="31.40" font-weight="bold" textLength="18.26" lengthAdjust="spacingAndGlyphs" fill="#1b3b6f" stroke="#1b3b6f" stroke-width="0.6">T</text>
<text x="977.08" y="1280.80" font-size="31.40" font-weight="bold" textLength="16.59" lengthAdjust="spacingAndGlyphs" fill="#1b3b6f" stroke="#1b3b6f" stroke-width="0.6">S</text>
<line x1="98.00" y1="1224.00" x2="133.00" y2="1224.00" stroke="#d0d0d0" stroke-width="2.20"/>
</svg>
</body></html>
